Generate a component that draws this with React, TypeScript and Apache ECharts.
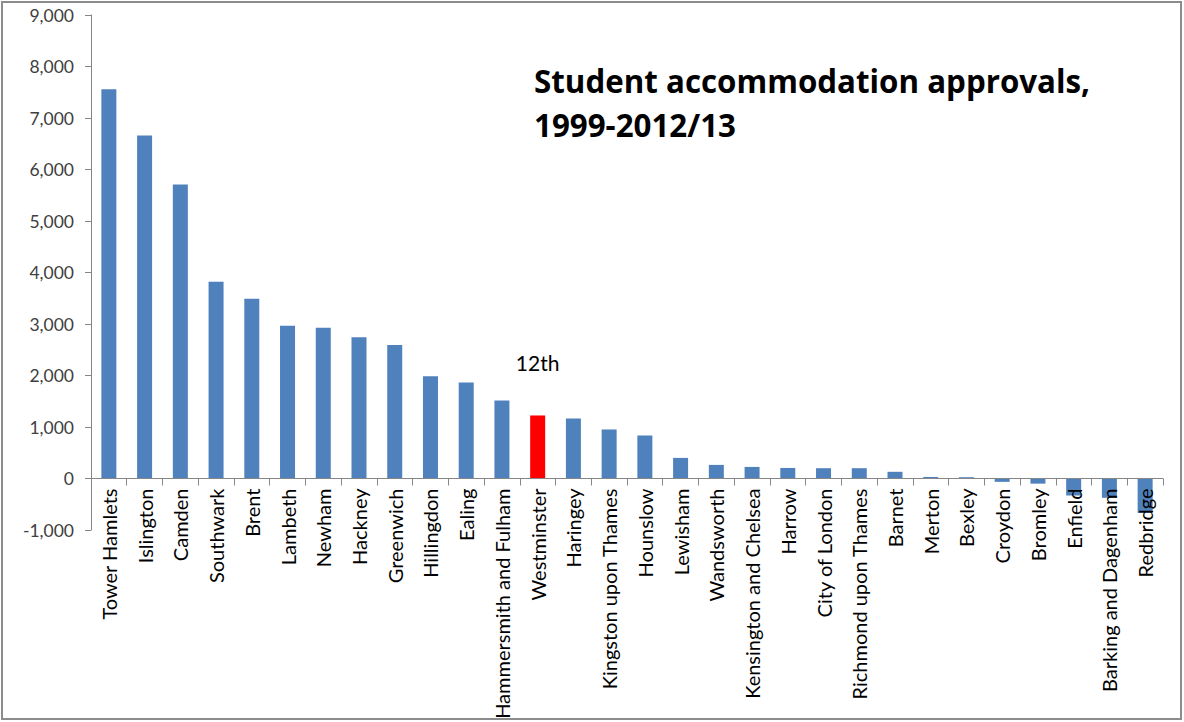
import React, { useEffect, useRef } from "react";
import * as echarts from "echarts";

const categories = [
  "Tower Hamlets", "Islington", "Camden", "Southwark", "Brent", "Lambeth", "Newham",
  "Hackney", "Greenwich", "Hillingdon", "Ealing", "Hammersmith and Fulham", "Westminster",
  "Haringey", "Kingston upon Thames", "Hounslow", "Lewisham", "Wandsworth",
  "Kensington and Chelsea", "Harrow", "City of London", "Richmond upon Thames", "Barnet",
  "Merton", "Bexley", "Croydon", "Bromley", "Enfield", "Barking and Dagenham", "Redbridge",
];

const approvals = [
  7560, 6660, 5710, 3820, 3490, 2965, 2926, 2745, 2590, 1987, 1865, 1515, 1224,
  1165, 952, 835, 400, 264, 225, 205, 200, 200, 130, 30, 25, -65, -100, -330, -375, -670,
];

const highlighted = "Westminster";
const highlightNote = "12th";
const titleLines = ["Student accommodation approvals,", "1999-2012/13"];

export default function App() {
  const ref = useRef<HTMLDivElement>(null);
  useEffect(() => {
    document.body.style.margin = "0";
    const chart = echarts.init(ref.current!, null, { renderer: "svg" });
    const font = "Lato, 'Open Sans', sans-serif";
    chart.setOption({
      animation: false,
      backgroundColor: "#ffffff",
      grid: { left: 91, right: 21, top: 15, bottom: 192, containLabel: false, outerBoundsMode: "none" },
      graphic: [
        {
          type: "rect",
          shape: { x: 2, y: 2, width: 1179, height: 717 },
          style: { fill: "none", stroke: "#8c8c8c", lineWidth: 2 },
          silent: true,
        },
        {
          type: "text",
          left: 534,
          top: 59,
          style: {
            text: titleLines.join("\n"),
            font: `bold 31.3px 'Open Sans', Lato, sans-serif`,
            lineHeight: 44,
            fill: "#000000",
          },
        },
      ],
      xAxis: {
        type: "category",
        data: categories,
        offset: -51.5,
        z: 10,
        axisLine: { onZero: false, lineStyle: { color: "#868686", width: 1 } },
        axisTick: { show: true, alignWithLabel: false, length: 7, lineStyle: { color: "#868686" } },
        axisLabel: {
          rotate: 90,
          interval: 0,
          margin: 10,
          color: "#000000",
          fontSize: 20,
          fontFamily: font,
        },
      },
      yAxis: {
        type: "value",
        min: -1000,
        max: 9000,
        interval: 1000,
        splitLine: { show: false },
        axisLine: { show: true, lineStyle: { color: "#868686" } },
        axisTick: { show: true, length: 6, lineStyle: { color: "#868686" } },
        axisLabel: {
          color: "#404040",
          fontSize: 17.5,
          fontFamily: font,
          margin: 17,
          formatter: (v: number) => v.toLocaleString("en-US"),
        },
      },
      series: [
        {
          type: "bar",
          barWidth: 15,
          data: categories.map((c, i) =>
            c === highlighted
              ? {
                  value: approvals[i],
                  itemStyle: { color: "#ff0000" },
                  label: {
                    show: true,
                    position: "top",
                    distance: 42,
                    formatter: highlightNote,
                    color: "#000000",
                    fontSize: 21,
                    fontFamily: font,
                  },
                }
              : { value: approvals[i] }
          ),
          itemStyle: { color: "#4f81bd" },
        },
      ],
    });
    return () => chart.dispose();
  }, []);
  return <div ref={ref} style={{ width: 1184, height: 722 }} />;
}
